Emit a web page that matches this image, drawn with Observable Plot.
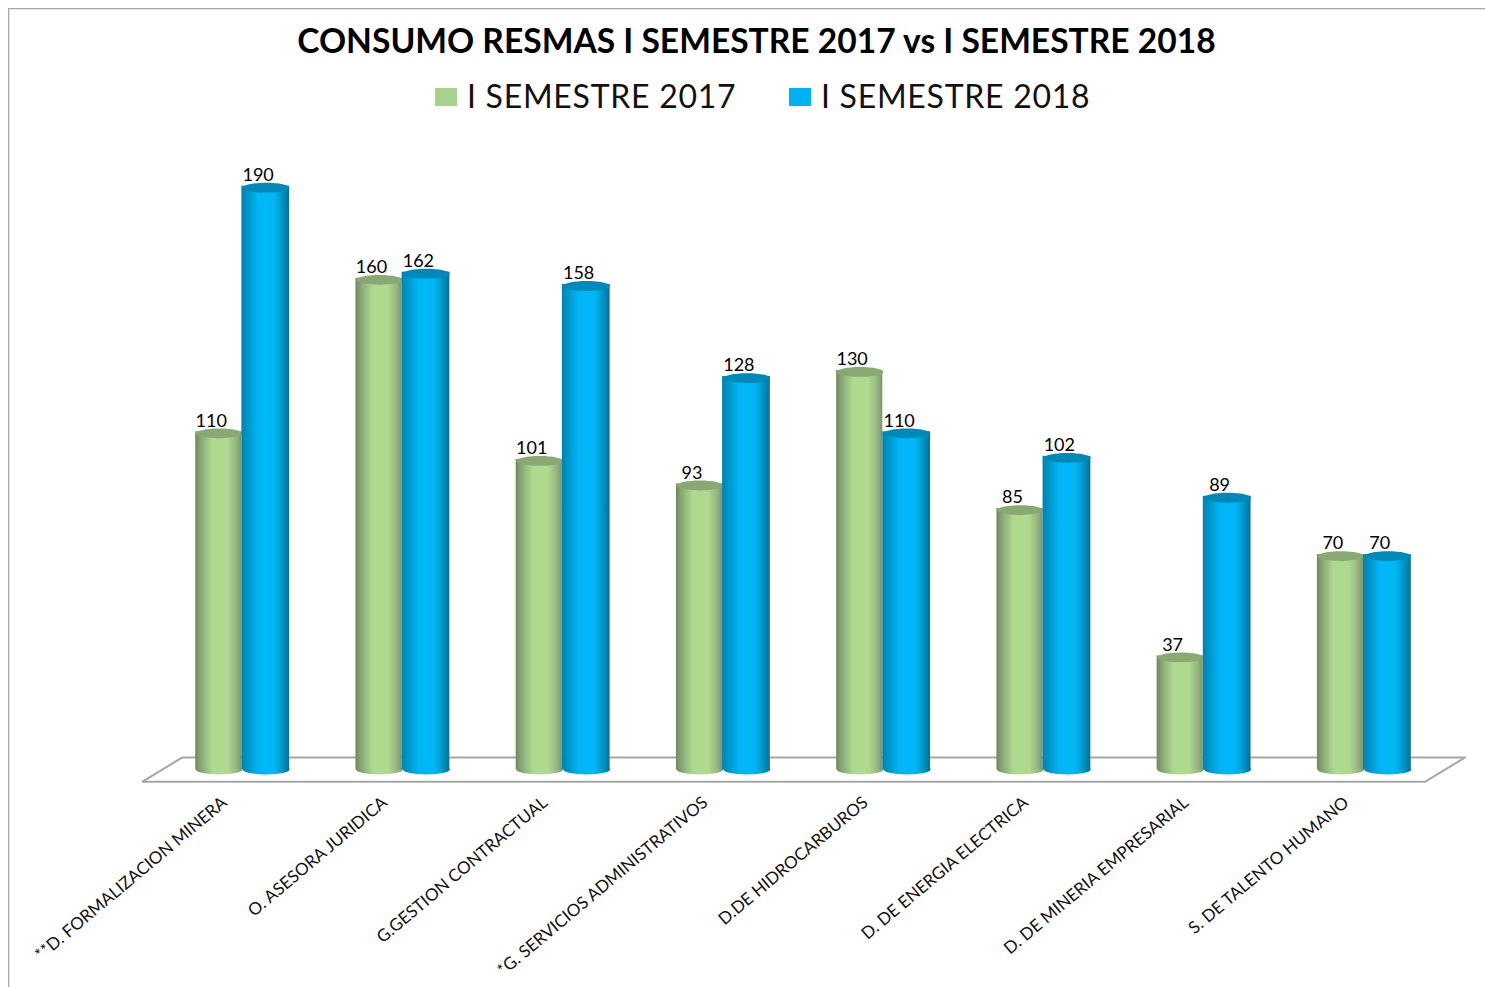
<!DOCTYPE html>
<html><head><meta charset="utf-8">
<script src="https://cdn.jsdelivr.net/npm/d3@7"></script>
<script src="https://cdn.jsdelivr.net/npm/@observablehq/plot@0.6"></script>
<style>
html,body{margin:0;padding:0;background:#fff}
#wrap{position:relative;width:1485px;height:987px;overflow:hidden;font-family:Lato,sans-serif;color:#000}
#border{position:absolute;left:8px;top:8px;width:1500px;height:1000px;border:1px solid #a8a8a8;box-shadow:inset 1px 1px 0 #e4e4e4;box-sizing:border-box}
#title{position:absolute;left:0;top:20px;width:1513px;text-align:center;font-size:33.6px;font-weight:700;line-height:40px;white-space:nowrap}
#legend{position:absolute;top:77px;left:0;width:1485px;height:36px;font-size:32px;color:#111;line-height:38px}
.sw{position:absolute;top:11px;width:22px;height:18px}
.lb{position:absolute;top:0;white-space:nowrap;letter-spacing:.73px}
#chart{position:absolute;left:0;top:130px}
#chart g[aria-label="x-axis tick label"] text{letter-spacing:.2px}
svg{overflow:visible}
</style></head><body>
<div id="wrap">
<div id="border"></div>
<div id="title">CONSUMO RESMAS I SEMESTRE 2017 vs I SEMESTRE 2018</div>
<div id="legend"></div>
<div id="chart"></div>
</div>
<script>
const categories = ["**D. FORMALIZACION MINERA","O. ASESORA JURIDICA","G.GESTION CONTRACTUAL","*G. SERVICIOS ADMINISTRATIVOS","D.DE HIDROCARBUROS","D. DE ENERGIA ELECTRICA","D. DE MINERIA EMPRESARIAL","S. DE TALENTO HUMANO"];
const serie2017 = [110,160,101,93,130,85,37,70];
const serie2018 = [190,162,158,128,110,102,89,70];
const seriesNames = ["I SEMESTRE 2017","I SEMESTRE 2018"];
const legendColors = ["#a9d18e","#00b0f0"];
const capColors = ["#8aa874","#0088b8"];

const halfGroup = 0.293;
const table = (vals, k) => vals.map((v,i)=>({i, v, x1: k===0 ? i-halfGroup : i-0.005, x2: k===0 ? i-0.005 : i+halfGroup, xc: k===0 ? i-halfGroup/2 : i+halfGroup/2}));
const t17 = table(serie2017,0), t18 = table(serie2018,1);

// parallelogram floor, in the units of the two scales
const floorX = [-0.625,-0.376,7.63,7.38,-0.625];
const floorY = [-3.3,4.6,4.6,-3.3,-3.3];
const floor = floorX.map((x,j)=>({x,y:floorY[j]}));

// flattened circle for the cylinder ends
const ellipseSymbol = ratio => ({draw(ctx,size){
  const rx=Math.sqrt(size/Math.PI), ry=rx*ratio, k=0.5523;
  ctx.moveTo(-rx,0);
  ctx.bezierCurveTo(-rx,-ry*k,-rx*k,-ry,0,-ry);
  ctx.bezierCurveTo(rx*k,-ry,rx,-ry*k,rx,0);
  ctx.bezierCurveTo(rx,ry*k,rx*k,ry,0,ry);
  ctx.bezierCurveTo(-rx*k,ry,-rx,ry*k,-rx,0);
  ctx.closePath();
}});
const R = 23.4;

const defs = () => {
  const g = document.createElementNS("http://www.w3.org/2000/svg","g");
  g.innerHTML = `<defs>
  <linearGradient id="g17" x1="0" x2="1" y1="0" y2="0">
   <stop offset="0" stop-color="#6e8860"/><stop offset=".1" stop-color="#86a272"/><stop offset=".36" stop-color="#aed98f"/><stop offset=".7" stop-color="#aed98f"/><stop offset=".9" stop-color="#94b280"/><stop offset="1" stop-color="#7b9669"/>
  </linearGradient>
  <linearGradient id="g18" x1="0" x2="1" y1="0" y2="0">
   <stop offset="0" stop-color="#0a7fa8"/><stop offset=".1" stop-color="#0092c4"/><stop offset=".36" stop-color="#00b6f6"/><stop offset=".68" stop-color="#00b6f6"/><stop offset=".88" stop-color="#008fbf"/><stop offset="1" stop-color="#006f96"/>
  </linearGradient></defs>`;
  return g;
};

const cylinder = (t,id,cap) => [
  Plot.dot(t,{x:"xc",y:0,dy:-2,r:R,symbol:ellipseSymbol(0.21),fill:`url(#${id})`,stroke:"none"}),
  Plot.rectY(t,{x1:"x1",x2:"x2",y1:0,y2:"v",dy:-2,fill:`url(#${id})`}),
  Plot.dot(t,{x:"xc",y:"v",dy:-0.5,r:R,symbol:ellipseSymbol(0.21),fill:cap,stroke:"none"})
];

const labels = t => Plot.text(t,{x:"xc",y:"v",text:"v",dx:-8,dy:-13,fontSize:18,fontFamily:"Lato",fill:"#000"});

const chart = Plot.plot({
  width:1485, height:857,
  marginLeft:130, marginRight:9, marginTop:27, marginBottom:185.3,
  style:{background:"transparent",fontFamily:"Lato"},
  x:{domain:[-0.7,7.7],axis:null},
  y:{domain:[-10,200],axis:null},
  marks:[
    defs,
    Plot.line(floor,{x:"x",y:"y",stroke:"#a6a6a6",strokeWidth:2,fill:"#fff"}),
    ...cylinder(t17,"g17",capColors[0]),
    ...cylinder(t18,"g18",capColors[1]),
    labels(t17), labels(t18),
    Plot.axisX({
      anchor:"bottom",ticks:d3.range(categories.length),tickFormat:i=>categories[i],
      tickSize:0,tickRotate:-40,tickPadding:0,fontSize:17,dx:-18,dy:-2,fill:"#111",label:null,lineWidth:100,ariaLabel:"x-axis tick label"
    })
  ]
});
document.getElementById("chart").append(chart);

const legend = document.getElementById("legend");
[[435,467],[789,821]].forEach(([sx,lx],k)=>{
  const s=document.createElement("div");s.className="sw";s.style.left=sx+"px";s.style.background=legendColors[k];legend.append(s);
  const l=document.createElement("div");l.className="lb";l.style.left=lx+"px";l.textContent=seriesNames[k];legend.append(l);
});
</script>
</body></html>
